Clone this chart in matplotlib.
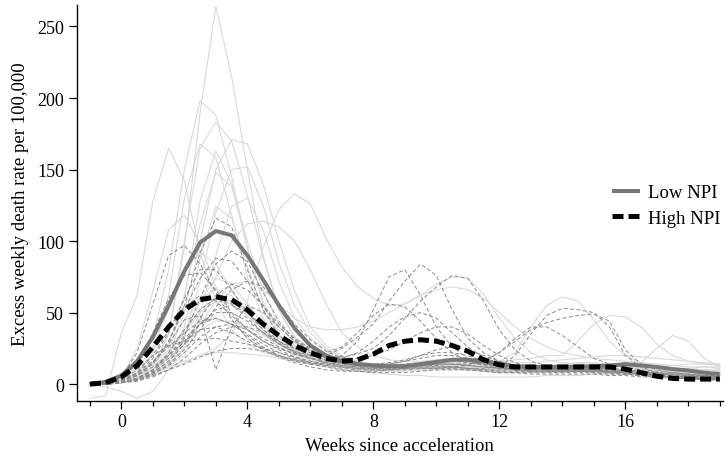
import numpy as np
import matplotlib
matplotlib.use("Agg")
import matplotlib.pyplot as plt
from matplotlib.ticker import MultipleLocator

plt.rcParams['font.family'] = ['Liberation Serif', 'DejaVu Serif']
plt.rcParams['font.size'] = 13.5

# half-week grid, weeks -1 .. 19
weeks = np.arange(-1, 19.5, 0.5)

# individual cities, low NPI (light solid lines)
low_npi_cities = [
    [0, 0, 2, 5, 12, 35, 95, 190, 264, 215, 150, 90, 52, 32, 22, 16, 13, 11, 10, 10, 11, 12, 12, 11, 10, 9, 8, 8, 8, 9, 10, 10, 9, 8, 8, 8, 7, 7, 6, 6, 6],
    [0, 1, 4, 12, 32, 80, 150, 198, 188, 145, 95, 58, 38, 27, 21, 18, 16, 14, 13, 12, 12, 13, 14, 14, 13, 12, 11, 11, 12, 13, 14, 15, 15, 14, 12, 11, 10, 10, 11, 12, 12],
    [0, 0, 2, 5, 12, 35, 100, 165, 183, 170, 132, 88, 52, 33, 24, 19, 16, 14, 12, 11, 10, 10, 11, 12, 12, 11, 10, 9, 9, 10, 11, 12, 12, 11, 10, 9, 8, 8, 7, 7, 7],
    [0, 1, 3, 8, 22, 62, 130, 168, 158, 118, 75, 46, 30, 22, 18, 15, 13, 12, 11, 11, 12, 14, 16, 17, 16, 14, 12, 11, 11, 12, 13, 14, 14, 13, 12, 11, 10, 9, 8, 8, 7],
    [0, 0, 1, 3, 8, 20, 50, 100, 150, 171, 168, 140, 100, 65, 40, 27, 20, 16, 14, 13, 13, 14, 15, 16, 16, 15, 14, 13, 12, 12, 12, 12, 13, 14, 14, 13, 12, 11, 10, 10, 9],
    [-10, -8, 36, 62, 128, 165, 142, 92, 58, 38, 28, 22, 19, 17, 16, 15, 14, 13, 12, 12, 12, 12, 13, 13, 12, 11, 10, 9, 9, 9, 10, 10, 10, 9, 9, 8, 8, 8, 7, 7, 7],
    [0, 0, 1, 4, 10, 22, 60, 128, 163, 140, 95, 56, 35, 24, 18, 14, 12, 10, 9, 9, 9, 10, 10, 11, 11, 10, 9, 9, 8, 8, 8, 9, 9, 9, 8, 8, 7, 7, 6, 6, 6],
    [0, 0, 1, 3, 8, 15, 32, 72, 120, 150, 152, 125, 85, 55, 36, 25, 19, 15, 13, 12, 12, 12, 13, 14, 14, 13, 13, 12, 12, 12, 13, 13, 12, 11, 11, 10, 10, 9, 9, 8, 8],
    [0, 0, 2, 6, 14, 28, 62, 112, 148, 138, 100, 65, 42, 29, 22, 18, 15, 13, 12, 11, 11, 11, 12, 12, 12, 11, 10, 10, 10, 10, 10, 10, 10, 10, 9, 9, 8, 8, 8, 7, 7],
    [0, 0, 1, 3, 6, 10, 15, 20, 25, 35, 58, 95, 122, 133, 126, 102, 82, 68, 60, 55, 56, 62, 70, 75, 74, 63, 46, 32, 22, 17, 15, 14, 13, 13, 13, 12, 12, 11, 11, 10, 10],
    [0, 1, 5, 25, 65, 108, 118, 98, 68, 46, 32, 24, 19, 16, 14, 13, 12, 11, 10, 10, 10, 11, 11, 11, 10, 10, 9, 9, 9, 9, 9, 9, 9, 9, 9, 8, 8, 8, 7, 7, 7],
    [0, 0, 1, 4, 10, 20, 40, 88, 124, 116, 82, 52, 34, 24, 18, 15, 13, 12, 11, 11, 11, 12, 13, 13, 12, 11, 10, 10, 10, 11, 11, 12, 12, 11, 11, 10, 10, 9, 9, 8, 8],
    [0, 0, 1, 3, 7, 14, 25, 50, 90, 124, 130, 108, 72, 46, 32, 24, 19, 16, 14, 13, 13, 14, 15, 15, 14, 13, 12, 12, 12, 12, 13, 14, 14, 14, 13, 12, 12, 11, 10, 10, 9],
    [0, 0, 1, 3, 6, 12, 20, 44, 75, 100, 112, 114, 110, 100, 80, 56, 36, 26, 20, 17, 16, 16, 17, 18, 18, 17, 16, 15, 15, 16, 17, 18, 19, 20, 20, 19, 18, 17, 16, 15, 14],
    [0, -2, -5, -10, -5, 10, 34, 58, 74, 70, 56, 42, 32, 25, 20, 17, 15, 13, 12, 11, 11, 11, 12, 12, 12, 11, 10, 10, 9, 9, 9, 9, 9, 9, 8, 8, 8, 7, 7, 7, 6],
    [0, 1, 3, 7, 14, 24, 38, 52, 60, 58, 50, 41, 33, 26, 21, 17, 14, 12, 11, 10, 10, 10, 10, 10, 10, 10, 9, 9, 9, 9, 9, 9, 9, 8, 8, 8, 7, 7, 7, 6, 6],
    [0, 0, 2, 4, 8, 12, 16, 20, 22, 22, 21, 20, 18, 16, 14, 12, 10, 9, 8, 7, 6, 6, 5, 5, 5, 5, 5, 5, 5, 6, 6, 6, 7, 7, 7, 7, 7, 6, 6, 6, 6],
    [0, 1, 3, 7, 15, 28, 45, 60, 66, 62, 50, 38, 28, 21, 17, 14, 12, 11, 10, 10, 10, 11, 12, 13, 14, 15, 16, 22, 40, 55, 61, 58, 45, 30, 20, 15, 12, 11, 10, 10, 9],
    [0, 1, 2, 6, 12, 22, 36, 50, 58, 56, 48, 38, 30, 24, 20, 18, 16, 15, 14, 14, 14, 15, 15, 16, 16, 16, 16, 17, 18, 20, 20, 30, 42, 48, 47, 40, 28, 20, 16, 14, 13],
    [0, 0, 2, 5, 10, 18, 28, 38, 44, 44, 40, 34, 28, 23, 19, 16, 14, 13, 12, 12, 12, 12, 12, 12, 12, 12, 12, 12, 12, 12, 12, 12, 12, 12, 12, 15, 25, 34, 30, 18, 12],
    [0, 1, 3, 10, 26, 52, 80, 92, 84, 66, 48, 35, 26, 20, 16, 14, 12, 11, 10, 10, 11, 13, 15, 16, 15, 13, 11, 10, 10, 10, 11, 12, 13, 13, 12, 12, 12, 13, 14, 14, 14],
    [0, 0, 1, 3, 7, 14, 26, 42, 58, 70, 72, 66, 56, 46, 40, 38, 38, 40, 44, 50, 56, 62, 66, 68, 66, 60, 50, 40, 32, 26, 22, 20, 18, 17, 16, 15, 14, 13, 12, 12, 11],
]

# individual cities, high NPI (thin dashed lines)
high_npi_cities = [
    [0, 1, 5, 22, 56, 90, 97, 84, 64, 45, 32, 25, 20, 17, 15, 14, 13, 12, 12, 12, 12, 13, 14, 14, 13, 12, 11, 10, 10, 10, 10, 10, 10, 9, 9, 8, 8, 7, 7, 6, 6],
    [0, 0, 2, 6, 15, 30, 55, 92, 116, 110, 80, 52, 34, 25, 20, 17, 15, 14, 13, 13, 14, 15, 16, 16, 15, 14, 13, 12, 12, 12, 12, 12, 11, 11, 10, 9, 8, 7, 6, 6, 5],
    [0, 0, 1, 4, 10, 20, 34, 60, 84, 93, 86, 64, 44, 31, 24, 19, 16, 14, 13, 12, 12, 13, 13, 12, 11, 10, 10, 10, 10, 11, 11, 11, 11, 10, 9, 8, 7, 6, 5, 5, 4],
    [0, 0, 2, 6, 14, 28, 45, 48, 10, 40, 55, 50, 40, 30, 23, 18, 15, 13, 12, 12, 12, 13, 14, 14, 13, 12, 11, 11, 11, 11, 11, 11, 10, 10, 9, 8, 7, 6, 6, 5, 5],
    [0, 1, 3, 10, 20, 27, 30, 31, 32, 30, 28, 25, 22, 19, 16, 14, 12, 11, 10, 10, 10, 11, 11, 11, 10, 9, 8, 8, 8, 8, 8, 8, 8, 7, 7, 6, 6, 5, 5, 5, 4],
    [0, 0, 2, 7, 18, 36, 60, 80, 80, 66, 50, 38, 29, 22, 18, 15, 14, 13, 13, 14, 16, 18, 20, 20, 18, 15, 12, 10, 9, 9, 9, 9, 9, 8, 8, 7, 6, 5, 5, 4, 4],
    [0, 0, 1, 3, 7, 14, 24, 38, 54, 66, 72, 68, 56, 42, 31, 23, 18, 15, 14, 14, 16, 20, 24, 26, 24, 20, 16, 13, 11, 10, 10, 10, 9, 9, 8, 7, 6, 5, 4, 4, 3],
    [0, 0, 2, 8, 20, 38, 54, 62, 58, 48, 38, 30, 24, 19, 15, 13, 11, 10, 10, 10, 11, 12, 12, 12, 11, 10, 9, 9, 9, 9, 9, 9, 8, 8, 7, 6, 5, 5, 4, 4, 3],
    [0, 0, 1, 4, 10, 20, 32, 42, 46, 42, 34, 26, 20, 16, 14, 15, 20, 30, 52, 75, 80, 62, 40, 26, 18, 14, 12, 10, 9, 9, 9, 9, 9, 9, 8, 7, 6, 5, 4, 4, 3],
    [0, 0, 1, 3, 8, 16, 28, 42, 52, 55, 50, 40, 30, 23, 19, 20, 25, 33, 42, 58, 72, 84, 76, 52, 32, 22, 16, 13, 11, 10, 10, 10, 10, 9, 8, 7, 6, 5, 4, 4, 4],
    [0, 0, 1, 4, 10, 22, 38, 52, 60, 56, 46, 36, 28, 23, 20, 19, 19, 21, 25, 34, 46, 58, 68, 76, 74, 58, 38, 24, 16, 13, 12, 12, 11, 11, 10, 9, 8, 7, 6, 5, 5],
    [0, 0, 2, 6, 12, 20, 30, 38, 40, 36, 30, 24, 19, 15, 12, 10, 9, 9, 9, 10, 11, 12, 12, 12, 11, 11, 12, 20, 35, 48, 53, 52, 50, 40, 20, 12, 8, 6, 5, 5, 4],
    [0, 0, 1, 4, 9, 18, 30, 42, 50, 50, 44, 36, 28, 22, 18, 15, 13, 12, 11, 11, 11, 11, 11, 12, 13, 16, 22, 30, 38, 43, 46, 48, 49, 44, 24, 14, 10, 8, 7, 6, 5],
    [0, 1, 3, 8, 16, 26, 36, 44, 46, 42, 35, 28, 22, 18, 15, 13, 12, 11, 11, 11, 12, 13, 14, 14, 14, 16, 22, 32, 40, 40, 34, 26, 18, 14, 12, 10, 9, 8, 7, 6, 5],
    [0, 0, 1, 3, 7, 13, 22, 33, 40, 42, 38, 32, 26, 21, 18, 17, 18, 22, 30, 40, 47, 50, 46, 36, 26, 19, 14, 12, 11, 10, 10, 10, 10, 9, 8, 7, 6, 5, 4, 3, 3],
    [0, 0, 1, 3, 8, 16, 28, 46, 62, 70, 66, 55, 42, 32, 25, 20, 18, 18, 20, 24, 30, 36, 40, 40, 35, 27, 20, 15, 12, 11, 10, 10, 10, 9, 8, 7, 6, 5, 4, 4, 3],
    [0, 0, 2, 6, 15, 30, 52, 74, 88, 86, 72, 54, 40, 30, 23, 18, 15, 13, 12, 12, 13, 14, 16, 17, 16, 14, 12, 11, 11, 11, 11, 11, 10, 10, 9, 8, 7, 6, 5, 5, 4],
    [0, 0, 1, 3, 6, 10, 14, 19, 23, 25, 25, 23, 20, 17, 14, 12, 10, 9, 8, 8, 8, 9, 10, 10, 10, 9, 8, 8, 7, 7, 7, 7, 7, 6, 6, 5, 5, 4, 4, 3, 3],
    [0, 1, 4, 14, 36, 60, 76, 78, 66, 50, 38, 30, 25, 21, 18, 16, 15, 14, 14, 15, 17, 20, 22, 22, 20, 16, 13, 11, 10, 10, 10, 10, 10, 9, 8, 7, 6, 5, 5, 4, 4],
    [0, 0, 1, 2, 5, 10, 18, 28, 36, 40, 40, 36, 30, 25, 22, 22, 26, 36, 48, 56, 54, 44, 32, 22, 16, 13, 11, 10, 9, 9, 9, 9, 9, 8, 7, 6, 5, 4, 4, 3, 3],
]

# group averages
low_npi_mean = [0, 1.5, 6, 16, 33, 55, 79, 99, 107, 104, 90, 73, 55, 39, 27, 20, 16, 14, 13, 12.5,
                12.5, 14, 15.5, 17, 17, 16, 14, 12.5, 12, 12, 12, 12, 12.5, 13, 14, 13, 12, 10.5, 9.5, 8, 7]
high_npi_mean = [0, 1, 5, 13, 26, 40, 52, 59, 61, 59, 52, 42, 34, 27, 22, 18, 16, 17, 21, 27,
                 30, 31, 30, 27, 23, 17, 13.5, 12, 12, 12, 12, 12, 12, 12, 10.5, 8, 5.5, 4, 3.5, 3.5, 3.5]

fig = plt.figure(figsize=(7.26, 4.6), dpi=100)
ax = fig.add_axes([0.1056, 0.1267, 0.8902, 0.8602])

for city in low_npi_cities:
    ax.plot(weeks, city, color='#d9d9d9', lw=0.8, zorder=1)
for city in high_npi_cities:
    ax.plot(weeks, city, color='#8a8a8a', lw=0.7, ls=(0, (4, 2.5)), zorder=2)

ax.plot(weeks, low_npi_mean, color='#777777', lw=2.9, label='Low NPI', zorder=3,
        solid_capstyle='butt', solid_joinstyle='round')
ax.plot(weeks, high_npi_mean, color='black', lw=3.6, ls=(0, (2.2, 1.0)), label='High NPI', zorder=4)

ax.set_xlim(-1.42, 19.1)
ax.set_ylim(-11.6, 265)
ax.set_xticks([0, 4, 8, 12, 16])
ax.xaxis.set_minor_locator(MultipleLocator(1))
ax.set_yticks([0, 50, 100, 150, 200, 250])
ax.tick_params(which='major', direction='out', length=6, width=0.9, pad=3, labelsize=13)
ax.tick_params(which='minor', direction='out', length=3.5, width=0.9)
for side in ['top', 'right']:
    ax.spines[side].set_visible(False)
for side in ['left', 'bottom']:
    ax.spines[side].set_linewidth(1.0)

ax.set_xlabel('Weeks since acceleration', labelpad=5)
ax.set_ylabel('Excess weekly death rate per 100,000', labelpad=6)

ax.legend(loc='center left', bbox_to_anchor=(0.828, 0.493), frameon=False,
          borderpad=0, borderaxespad=0, handlelength=1.5, handletextpad=0.43,
          labelspacing=0.45)

fig.savefig('out.png', dpi=100)
